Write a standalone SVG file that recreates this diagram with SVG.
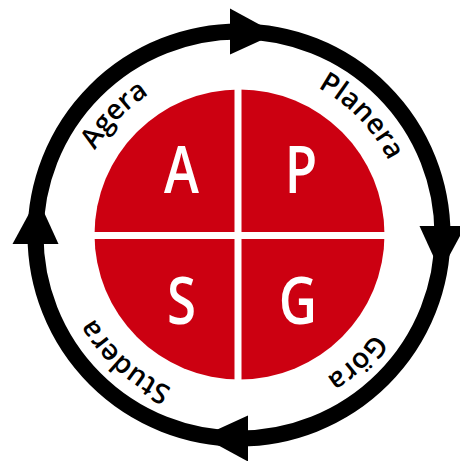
<svg xmlns="http://www.w3.org/2000/svg" xmlns:xlink="http://www.w3.org/1999/xlink" width="460" height="461" viewBox="0 0 460 461">
  <style>
    .ring { fill: none; stroke: #000; stroke-width: 16; }
    .arrow { fill: #000; }
    .quad { fill: #CC0011; }
    .sep { fill: #fff; }
    .letter { font-family: "Open Sans", "Liberation Sans", sans-serif; font-weight: 600; font-size: 66px; fill: #fff; text-anchor: middle; }
    .label { font-family: "Open Sans", "Liberation Sans", sans-serif; font-weight: 600; font-size: 28px; fill: #000; text-anchor: middle; }
  </style>
  <defs>
    <path id="arrowhead" d="M230,8.5 L230,54.5 L276,33.5 Z"/>
    <path id="labelPath" d="M72,235 A167,167 0 1 1 406,235 A167,167 0 1 1 72,235"/>
  </defs>
  <rect width="460" height="461" fill="#fff"/>

  <g id="connectors">
    <circle class="ring" cx="239" cy="235" r="203.5"/>
    <use xlink:href="#arrowhead" class="arrow"/>
    <use xlink:href="#arrowhead" class="arrow" transform="rotate(90 239 235)"/>
    <use xlink:href="#arrowhead" class="arrow" transform="rotate(180 239 235)"/>
    <use xlink:href="#arrowhead" class="arrow" transform="rotate(270 239 235)"/>
  </g>

  <g id="disc">
    <circle class="quad" cx="239.5" cy="234.5" r="145"/>
    <rect class="sep" x="234.5" y="85" width="7" height="300"/>
    <rect class="sep" x="90" y="232" width="300" height="7"/>
  </g>

  <g id="node-A"><text class="letter" transform="translate(181.5 193) scale(0.8 1)">A</text></g>
  <g id="node-P"><text class="letter" transform="translate(301 193) scale(0.8 1)">P</text></g>
  <g id="node-S"><text class="letter" transform="translate(181.5 324) scale(0.8 1)">S</text></g>
  <g id="node-G"><text class="letter" transform="translate(298 324) scale(0.8 1)">G</text></g>

  <g id="label-agera"><text class="label"><textPath xlink:href="#labelPath" startOffset="128">Agera</textPath></text></g>
  <g id="label-planera"><text class="label"><textPath xlink:href="#labelPath" startOffset="396">Planera</textPath></text></g>
  <g id="label-gora"><text class="label"><textPath xlink:href="#labelPath" startOffset="662">Göra</textPath></text></g>
  <g id="label-studera"><text class="label"><textPath xlink:href="#labelPath" startOffset="909">Studera</textPath></text></g>
</svg>
